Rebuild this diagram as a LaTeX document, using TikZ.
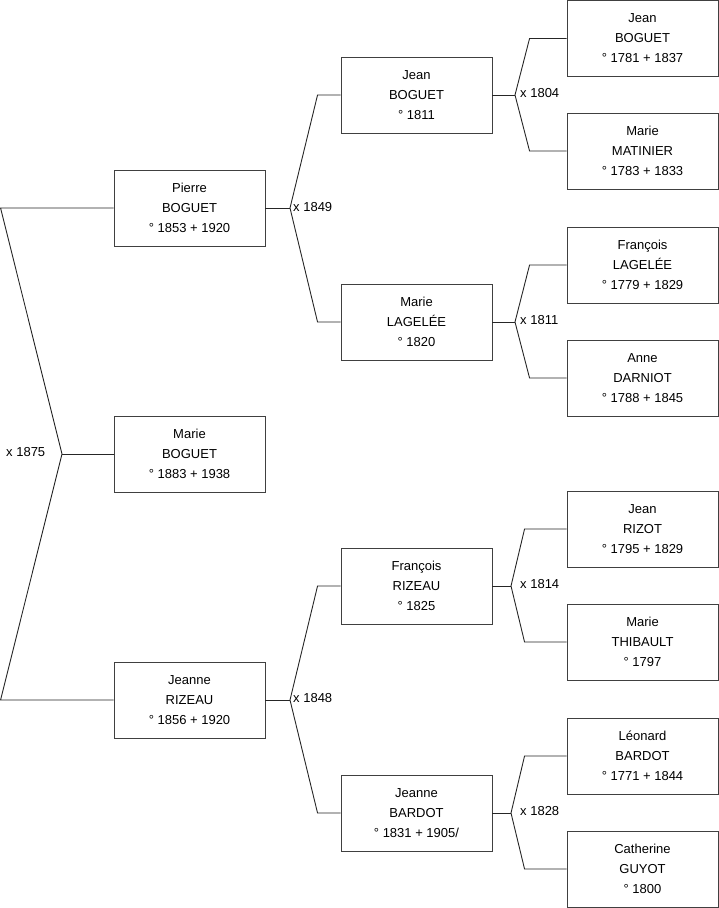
\documentclass[tikz,border=0pt]{standalone}
\usepackage{fontspec}
\setmainfont{Liberation Sans}
\usepackage{tikz}

\tikzset{
  person/.style={draw=black!75, line width=0.9pt, minimum width=151pt, minimum height=76pt,
    align=center, inner sep=0pt, font={\fontsize{13}{20}\selectfont}},
  union/.style={anchor=west, inner sep=0pt, font={\fontsize{13}{16}\selectfont}},
  link/.style={draw=black!85, line width=0.9pt}
}

\begin{document}
\begin{tikzpicture}[x=1pt, y=-1pt]
    \useasboundingbox (0,0) rectangle (719,908);
    % Children generation
    \node[person] (pierre) at (189.5, 208) {Pierre\\BOGUET\\° 1853 + 1920};
    \node[person] (marieb) at (189.5, 454) {Marie\\BOGUET\\° 1883 + 1938};
    \node[person] (jeanner) at (189.5, 700) {Jeanne\\RIZEAU\\° 1856 + 1920};
    % Parents
    \node[person] (jeanb) at (416.5, 95) {Jean\\BOGUET\\° 1811};
    \node[person] (mariel) at (416.5, 322) {Marie\\LAGELÉE\\° 1820};
    \node[person] (francoisr) at (416.5, 586) {François\\RIZEAU\\° 1825};
    \node[person] (jeanneb) at (416.5, 813) {Jeanne\\BARDOT\\° 1831 + 1905/};
    % Grandparents
    \node[person] (jeanbb) at (642.5, 38.5) {Jean\\BOGUET\\° 1781 + 1837};
    \node[person] (mariem) at (642.5, 151) {Marie\\MATINIER\\° 1783 + 1833};
    \node[person] (francoisl) at (642.5, 265) {François\\LAGELÉE\\° 1779 + 1829};
    \node[person] (anned) at (642.5, 378) {Anne\\DARNIOT\\° 1788 + 1845};
    \node[person] (jeanr) at (642.5, 529) {Jean\\RIZOT\\° 1795 + 1829};
    \node[person] (mariet) at (642.5, 642) {Marie\\THIBAULT\\° 1797};
    \node[person] (leonardb) at (642.5, 756) {Léonard\\BARDOT\\° 1771 + 1844};
    \node[person] (catherineg) at (642.5, 869) {Catherine\\GUYOT\\° 1800};
    % Marriage forks
    \coordinate (m0) at (62, 454);
    \coordinate (m1) at (290, 208);
    \coordinate (m2) at (290, 700);
    \coordinate (m3) at (515, 95);
    \coordinate (m4) at (515, 322);
    \coordinate (m5) at (511, 586);
    \coordinate (m6) at (511, 813);
    \draw[link] (pierre.west) -- ([xshift=-113pt]pierre.west) -- (m0) -- ([xshift=-113pt]jeanner.west) -- (jeanner.west);
    \draw[link] (m0) -- (marieb.west);
    \draw[link] (pierre.east) -- (m1);
    \draw[link] (jeanb.west) -- ([xshift=-23pt]jeanb.west) -- (m1) -- ([xshift=-23pt]mariel.west) -- (mariel.west);
    \draw[link] (jeanner.east) -- (m2);
    \draw[link] (francoisr.west) -- ([xshift=-23pt]francoisr.west) -- (m2) -- ([xshift=-23pt]jeanneb.west) -- (jeanneb.west);
    \draw[link] (jeanb.east) -- (m3);
    \draw[link] (jeanbb.west) -- ([xshift=-37pt]jeanbb.west) -- (m3) -- ([xshift=-37pt]mariem.west) -- (mariem.west);
    \draw[link] (mariel.east) -- (m4);
    \draw[link] (francoisl.west) -- ([xshift=-37pt]francoisl.west) -- (m4) -- ([xshift=-37pt]anned.west) -- (anned.west);
    \draw[link] (francoisr.east) -- (m5);
    \draw[link] (jeanr.west) -- ([xshift=-42pt]jeanr.west) -- (m5) -- ([xshift=-42pt]mariet.west) -- (mariet.west);
    \draw[link] (jeanneb.east) -- (m6);
    \draw[link] (leonardb.west) -- ([xshift=-42pt]leonardb.west) -- (m6) -- ([xshift=-42pt]catherineg.west) -- (catherineg.west);
    % Marriage years
    \node[union] (y0) at (6, 452) {x 1875};
    \node[union] (y1) at (293, 207) {x 1849};
    \node[union] (y2) at (293, 698) {x 1848};
    \node[union] (y3) at (520, 93) {x 1804};
    \node[union] (y4) at (520, 320) {x 1811};
    \node[union] (y5) at (520, 584) {x 1814};
    \node[union] (y6) at (520, 811) {x 1828};
\end{tikzpicture}
\end{document}
